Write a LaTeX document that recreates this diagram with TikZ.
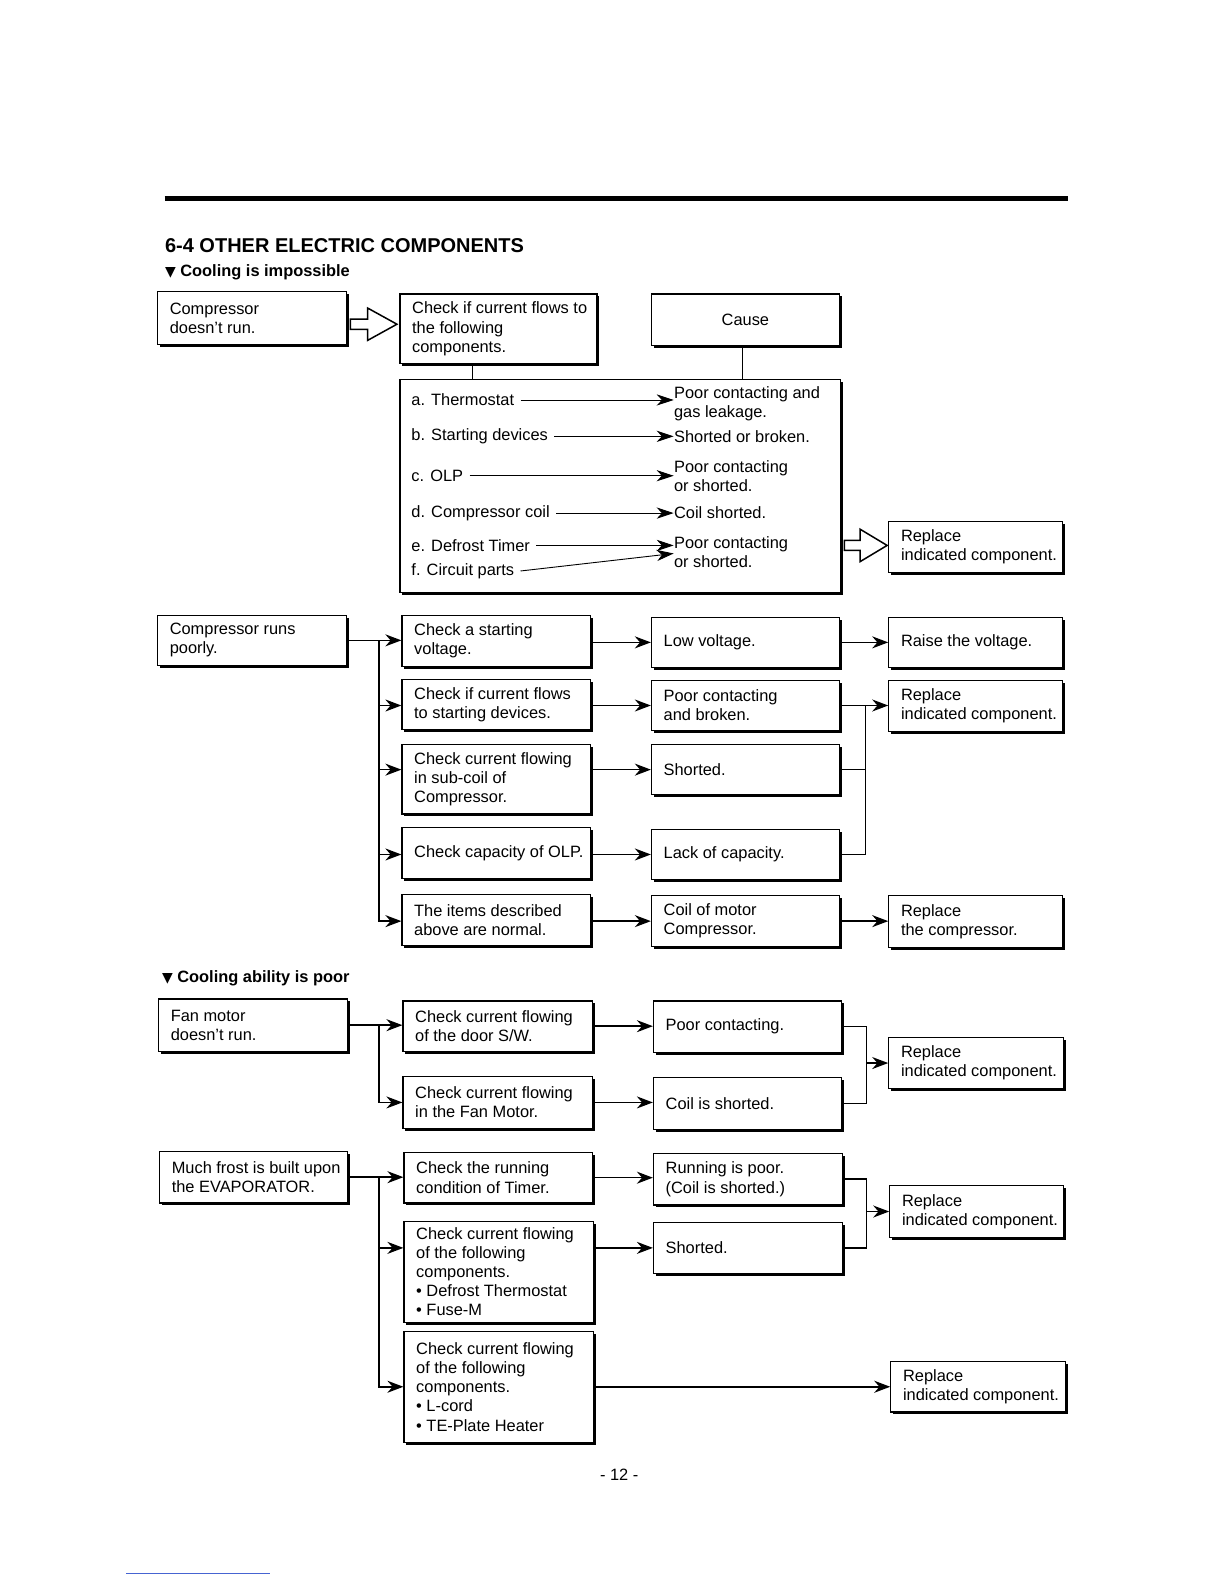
\documentclass[tikz,border=0pt]{standalone}
\usepackage{fontspec}
\setmainfont{Liberation Sans}
\newfontfamily\symfont{DejaVu Sans}
\usetikzlibrary{arrows.meta,shadows,calc}
\definecolor{lnkblue}{RGB}{70,100,210}
\newcommand\fs{\fontsize{8.2}{9.6}\selectfont}
\newcommand\mybox[6]{%
  \node[bx, minimum width={(#4-#2)*0.505pt}, minimum height={(#5-#3)*0.505pt}] (#1) at ({(#2+#4)/2},{(#3+#5)/2}) {};
  \node[txt] (#1t) at ([xshift=6.2pt]#1.west) {#6};}
\begin{document}
\begin{tikzpicture}[x=0.505pt, y=-0.505pt,
  bx/.style={draw, line width=0.6pt, fill=white, inner sep=0pt,
    drop shadow={shadow xshift=1.2pt, shadow yshift=-1.2pt, opacity=1, fill=black}},
  txt/.style={inner sep=0pt, anchor=west, align=left, font=\fs},
  ln/.style={line width=0.8pt},
  conn/.style={line width=0.8pt, -{Stealth[length=8pt,width=6pt,inset=2.6pt]}},
  thinconn/.style={line width=0.45pt, -{Stealth[length=8.5pt,width=5.6pt,inset=2.6pt]}, shorten <=3pt},
  hollowarrow/.pic={\draw[line width=0.75pt, fill=white] (0,-5) -- (17,-5) -- (17,-16) -- (46,0) -- (17,16) -- (17,5) -- (0,5) -- cycle;}]
\useasboundingbox (0,0) rectangle (1211.9,1568.3);

% header
\draw[line width=2.5pt] (163,197) -- (1057,197);
\node[anchor=west, inner sep=0pt, font=\bfseries\fontsize{10}{12}\selectfont] (title) at (163,243) {6-4 OTHER ELECTRIC COMPONENTS};
\node[anchor=west, inner sep=0pt, font=\bfseries\fs] (h1) at (163,270) {{\symfont\fontsize{7}{8}\selectfont ▼} Cooling is impossible};

% section 1
\mybox{s1a}{156}{289}{343}{341}{Compressor\\doesn't run.}
\mybox{s1b}{396}{291}{591}{360}{Check if current flows to\\the following\\components.}
\node[bx, minimum width={(831-645)*0.505pt}, minimum height={(342-291)*0.505pt}, font=\fs] (cause) at (738,316.5) {Cause};
\node[bx, minimum width={(832-396)*0.505pt}, minimum height={(587-376)*0.505pt}] (big) at (614,481.5) {};
\draw[ln] ([xshift=-12.9pt]s1b.south) -- ([xshift=-12.9pt]s1b.south |- big.north);
\draw[ln] ([xshift=-1.5pt]cause.south) -- ([xshift=-1.5pt]cause.south |- big.north);
\pic at (347,321) {hollowarrow};

\node[txt] (ia) at (407,396) {a. Thermostat};
\node[txt] (ca) at (667,399.5) {Poor contacting and\\gas leakage.};
\node[txt] (ib) at (407,432) {b. Starting devices};
\node[txt] (cb) at (667,432) {Shorted or broken.};
\node[txt] (ic) at (407,471) {c. OLP};
\node[txt] (cc) at (667,471.5) {Poor contacting\\or shorted.};
\node[txt] (id) at (407,508) {d. Compressor coil};
\node[txt] (cd) at (667,507.5) {Coil shorted.};
\node[txt] (ie) at (407,540) {e. Defrost Timer};
\node[txt] (ce) at (667,547) {Poor contacting\\or shorted.};
\node[txt] (if) at (407,566) {f. Circuit parts};
\draw[thinconn] (ia.east) -- (ia.east -| ca.west);
\draw[thinconn] (ib.east) -- (ib.east -| cb.west);
\draw[thinconn] (ic.east) -- (ic.east -| cc.west);
\draw[thinconn] (id.east) -- (id.east -| cd.west);
\draw[thinconn] (ie.east) -- (ie.east -| ce.west);
\draw[thinconn] (if.east) -- ([yshift=-0.5pt]ce.west);

\pic[xscale=0.92] at (836,540) {hollowarrow};
\mybox{rep1}{880}{516}{1052}{567}{Replace\\indicated component.}

% section 2
\mybox{B0}{156}{609}{343}{659}{Compressor runs\\poorly.}
\mybox{C1}{398}{609}{585}{660}{Check a starting\\voltage.}
\mybox{C2}{398}{673}{585}{722}{Check if current flows\\to starting devices.}
\mybox{C3}{398}{737}{585}{806}{Check current flowing\\in sub-coil of\\Compressor.}
\mybox{C4}{398}{819}{585}{870}{Check capacity of OLP.}
\mybox{C5}{398}{886}{585}{936}{The items described\\above are normal.}
\mybox{R1}{645}{611}{831}{661}{Low voltage.}
\mybox{R2}{645}{674}{831}{723}{Poor contacting\\and broken.}
\mybox{R3}{645}{737}{831}{787}{Shorted.}
\mybox{R4}{645}{821}{831}{871}{Lack of capacity.}
\mybox{R5}{645}{887}{831}{937}{Coil of motor\\Compressor.}
\mybox{A1}{880}{611}{1052}{661}{Raise the voltage.}
\mybox{A2}{880}{674}{1052}{724}{Replace\\indicated component.}
\mybox{A6}{880}{887}{1052}{938}{Replace\\the compressor.}

\coordinate (t2) at (375,634);
\coordinate (m2) at (857,699);
\draw[conn] (B0.east) -- (B0.east -| C1.west);
\draw[conn] (t2 |- R2.west) -- (C2.west |- R2.west);
\draw[conn] (t2 |- R3.west) -- (C3.west |- R3.west);
\draw[conn] (t2 |- R4.west) -- (C4.west |- R4.west);
\draw[conn] (t2) |- (C5.west |- R5.west);
\draw[conn] (C1.east |- R1.west) -- (R1.west);
\draw[conn] (C2.east |- R2.west) -- (R2.west);
\draw[conn] (C3.east |- R3.west) -- (R3.west);
\draw[conn] (C4.east |- R4.west) -- (R4.west);
\draw[conn] (C5.east |- R5.west) -- (R5.west);
\draw[conn] (R1.east) -- (R1.east -| A1.west);
\draw[conn] (R2.east) -- (R2.east -| A2.west);
\draw[ln] (R2.east -| m2) |- (R4.east);
\draw[ln] (R3.east) -- (R3.east -| m2);
\draw[conn] (R5.east) -- (R5.east -| A6.west);

% section 3
\node[anchor=west, inner sep=0pt, font=\bfseries\fs] (h2) at (160,969) {{\symfont\fontsize{7}{8}\selectfont ▼} Cooling ability is poor};
\mybox{F0}{157}{989}{344}{1041}{Fan motor\\doesn't run.}
\mybox{D1}{399}{991}{587}{1041}{Check current flowing\\of the door S/W.}
\mybox{D2}{399}{1066}{587}{1117}{Check current flowing\\in the Fan Motor.}
\mybox{E1}{647}{991}{833}{1042}{Poor contacting.}
\mybox{E2}{647}{1067}{833}{1118}{Coil is shorted.}
\mybox{G}{880}{1027}{1053}{1078}{Replace\\indicated component.}
\coordinate (t3) at (375,1015);
\coordinate (m3) at (858,1052.5);
\draw[conn] (F0.east) -- (F0.east -| D1.west);
\draw[conn] (t3) |- (D2.west);
\draw[conn] (D1.east) -- (D1.east -| E1.west);
\draw[conn] (D2.east) -- (D2.east -| E2.west);
\draw[ln] (E1.east) -| (m3) |- (E2.east);
\draw[conn] (m3) -- (G.west);

% section 4
\mybox{H0}{158}{1140}{344}{1191}{Much frost is built upon\\the EVAPORATOR.}
\mybox{I1}{400}{1141}{587}{1191}{Check the running\\condition of Timer.}
\mybox{I2}{400}{1209}{588}{1309}{Check current flowing\\of the following\\components.\\• Defrost Thermostat\\• Fuse-M}
\mybox{I3}{400}{1318}{588}{1428}{Check current flowing\\of the following\\components.\\• L-cord\\• TE-Plate Heater}
\mybox{J1}{647}{1142}{834}{1193}{Running is poor.\\(Coil is shorted.)}
\mybox{J2}{647}{1210}{834}{1261}{Shorted.}
\mybox{K1}{881}{1174}{1053}{1225}{Replace\\indicated component.}
\mybox{K2}{882}{1348}{1055}{1398}{Replace\\indicated component.}
\coordinate (t4) at (375,1165.5);
\coordinate (m4) at (858,1199.5);
\draw[conn] (H0.east) -- (H0.east -| I1.west);
\draw[conn] (t4 |- J2.west) -- (I2.west |- J2.west);
\draw[conn] (t4) |- (I3.west);
\draw[conn] (I1.east) -- (I1.east -| J1.west);
\draw[conn] (I2.east |- J2.west) -- (J2.west);
\draw[ln] (J1.east) -| (m4) |- (J2.east);
\draw[conn] (m4) -- (K1.west);
\draw[conn] (I3.east) -- (I3.east -| K2.west);

% footer
\node[inner sep=0pt, font=\fs] (pg) at (613,1460) {- 12 -};
\draw[lnkblue, line width=0.5pt] (125,1558) -- (267,1558);
\end{tikzpicture}
\end{document}
